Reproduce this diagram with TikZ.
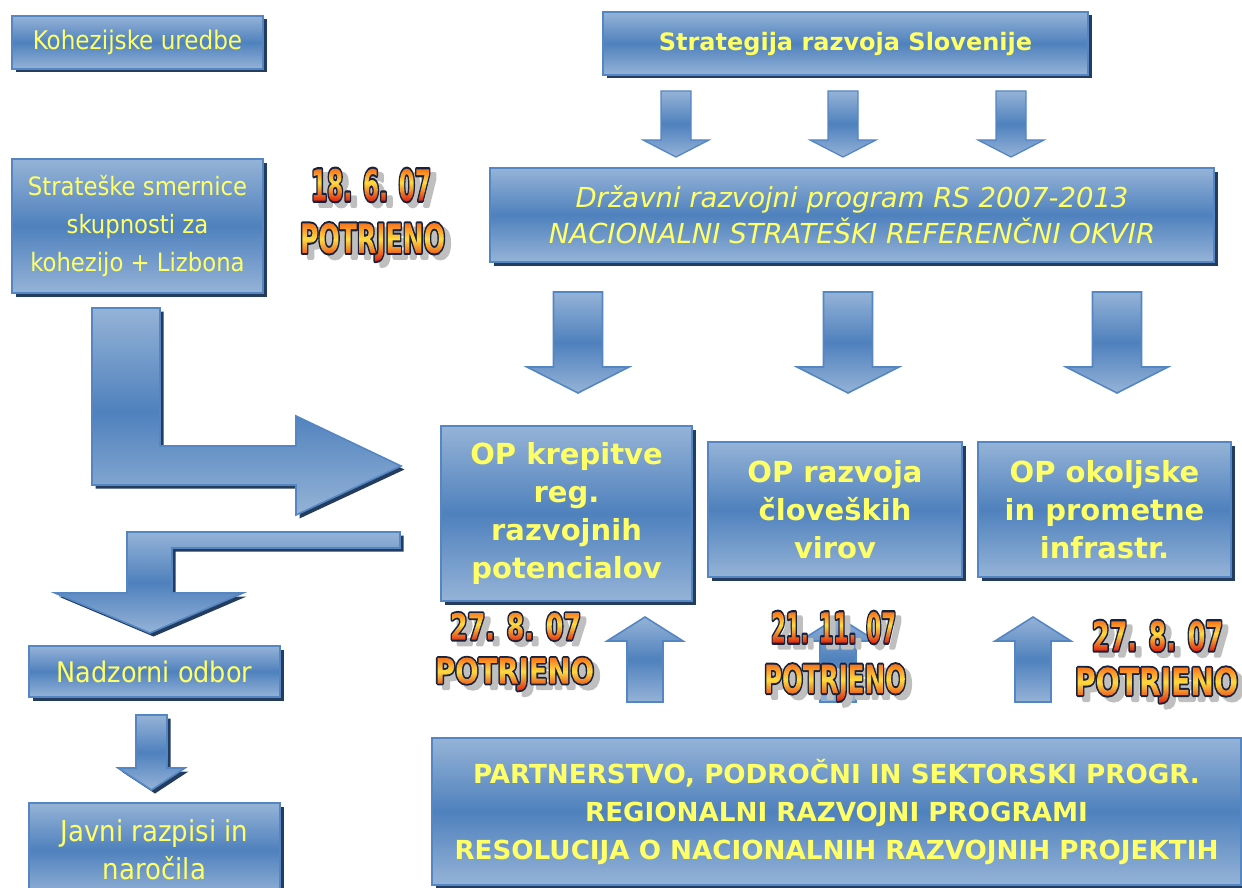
\documentclass[tikz,border=0pt]{standalone}
\usepackage{graphicx}
\usepackage{fontspec}
\usetikzlibrary{shadows}

\newfontfamily\tahreg{DejaVu Sans Condensed}
\newfontfamily\dvsans{DejaVu Sans}[ItalicFont={DejaVu Sans Oblique},BoldFont={DejaVu Sans Bold}]
\newfontfamily\stampface{DejaVu Sans Condensed Bold}

\definecolor{lightb}{RGB}{149,179,215}
\definecolor{darkb}{RGB}{79,129,189}
\definecolor{edgeb}{RGB}{84,134,196}
\definecolor{shadowc}{RGB}{36,60,94}
\definecolor{textyel}{RGB}{255,255,102}
\definecolor{stampgray}{RGB}{192,192,192}

% glyphs of a date stamp, squeezed to a given width and cap height
\newcommand\stampglyphs[3]{\resizebox{#1pt}{#2pt}{\stampface\fontsize{42}{42}\selectfont #3}}

% orange-yellow-red fills for the stamp lettering (one pattern per line,
% in page coordinates, bp from the lower edge)
\newcommand\stamppatterns{%
  \special{pdf:obj @stampfn << /FunctionType 3 /Domain [0 1]
    /Functions [ << /FunctionType 2 /Domain [0 1] /C0 [0.97 0.45 0.10] /C1 [1 0.86 0.25] /N 1 >>
                 << /FunctionType 2 /Domain [0 1] /C0 [1 0.86 0.25] /C1 [0.88 0.14 0.06] /N 1 >> ]
    /Bounds [0.42] /Encode [0 1 0 1] >>}%
  \special{pdf:obj @spAa << /PatternType 2 /Shading << /ShadingType 2 /ColorSpace /DeviceRGB
    /Coords [0 716.31 0 684.43] /Function @stampfn /Extend [true true] >> >>}%
  \special{pdf:obj @spAb << /PatternType 2 /Shading << /ShadingType 2 /ColorSpace /DeviceRGB
    /Coords [0 662.52 0 624.66] /Function @stampfn /Extend [true true] >> >>}%
  \special{pdf:obj @spBa << /PatternType 2 /Shading << /ShadingType 2 /ColorSpace /DeviceRGB
    /Coords [0 275.97 0 245.08] /Function @stampfn /Extend [true true] >> >>}%
  \special{pdf:obj @spBb << /PatternType 2 /Shading << /ShadingType 2 /ColorSpace /DeviceRGB
    /Coords [0 229.64 0 196.76] /Function @stampfn /Extend [true true] >> >>}%
  \special{pdf:obj @spCa << /PatternType 2 /Shading << /ShadingType 2 /ColorSpace /DeviceRGB
    /Coords [0 274.97 0 244.08] /Function @stampfn /Extend [true true] >> >>}%
  \special{pdf:obj @spCb << /PatternType 2 /Shading << /ShadingType 2 /ColorSpace /DeviceRGB
    /Coords [0 223.16 0 186.30] /Function @stampfn /Extend [true true] >> >>}%
  \special{pdf:obj @spDa << /PatternType 2 /Shading << /ShadingType 2 /ColorSpace /DeviceRGB
    /Coords [0 266.00 0 236.11] /Function @stampfn /Extend [true true] >> >>}%
  \special{pdf:obj @spDb << /PatternType 2 /Shading << /ShadingType 2 /ColorSpace /DeviceRGB
    /Coords [0 220.17 0 184.31] /Function @stampfn /Extend [true true] >> >>}%
  \special{pdf:put @resources << /Pattern << /SAa @spAa /SAb @spAb /SBa @spBa /SBb @spBb
    /SCa @spCa /SCb @spCb /SDa @spDa /SDb @spDb >> >>}%
}

\tikzset{
  castshadow/.style={general shadow={fill=shadowc, shadow xshift=3.5pt, shadow yshift=-3.5pt}},
  bluebox/.style={draw=edgeb, line width=2pt, top color=lightb, bottom color=lightb,
    middle color=darkb, castshadow, inner sep=0pt, align=center, text=textyel},
  blueshape/.style={draw=edgeb, line width=1.6pt, line join=miter, top color=lightb,
    bottom color=lightb, middle color=darkb},
  stampglyph/.style={inner sep=0pt, anchor=center},
}

% stamp line: name, pattern, centre x, centre y, width, cap height, text
\newcommand\stampline[7]{%
  \node[stampglyph, text=stampgray] (#1g) at (#3+6,#4+5)
    {\special{pdf:literal direct 0.75 0.75 0.75 RG 4 w 1 j 2 Tr}\stampglyphs{#5}{#6}{#7}\special{pdf:literal direct 0 Tr}};
  \node[stampglyph] (#1) at (#3,#4)
    {\special{pdf:literal direct /Pattern cs /#2 scn 0.086 0.13 0.24 RG 4.2 w 1 j 2 Tr}\stampglyphs{#5}{#6}{#7}\special{pdf:literal direct 0 Tr}};
}

\begin{document}
\begin{tikzpicture}[x=1pt,y=-1pt]
\useasboundingbox (0,0) rectangle (1242,888);
\clip (0,0) rectangle (1242,888);

% left column
\node[bluebox, minimum width=251pt, minimum height=53pt,
  font=\tahreg\fontsize{25.7}{34}\selectfont] (koh) at (137.5,42.5) {Kohezijske uredbe};
\node[bluebox, minimum width=251pt, minimum height=134pt,
  font=\tahreg\fontsize{25.3}{38}\selectfont] (smer) at (137.5,226)
  {\stamppatterns Strateške smernice\\skupnosti za\\kohezijo + Lizbona};

% bent arrow into the operational programmes
\path[blueshape, castshadow] (92,308) -- (160,308) -- (160,446) -- (296,446) -- (296,416)
  -- (401,466) -- (296,515) -- (296,485) -- (92,485) -- cycle;
% bent arrow down to the monitoring committee
\path[blueshape, castshadow] (400,532) -- (127,532) -- (127,593) -- (55,593) -- (150,633)
  -- (243,593) -- (172,593) -- (172,548) -- (400,548) -- cycle;

\node[bluebox, minimum width=251pt, minimum height=51pt,
  font=\tahreg\fontsize{28.4}{38}\selectfont] (nad) at (154.5,671.5) {Nadzorni odbor};
\path[blueshape, castshadow] (136,715) -- (167,715) -- (167,768) -- (185,768) -- (151.5,790)
  -- (118,768) -- (136,768) -- cycle;
\node[bluebox, minimum width=251pt, minimum height=94pt,
  font=\tahreg\fontsize{28.9}{38}\selectfont] (jav) at (154.5,850) {Javni razpisi in\\naročila};

% strategy and national programme
\node[bluebox, minimum width=485pt, minimum height=63pt,
  font=\dvsans\bfseries\fontsize{24}{30}\selectfont] (strat) at (845.5,43.5)
  {Strategija razvoja Slovenije};
\foreach \c in {676,843,1011}
  \path[blueshape, line width=1.3pt] ({\c-15},91) -- ({\c+15},91) -- ({\c+15},140) -- ({\c+33},140)
    -- (\c,157) -- ({\c-33},140) -- ({\c-15},140) -- cycle;
\node[bluebox, minimum width=724pt, minimum height=94pt,
  font=\dvsans\itshape\fontsize{27.5}{36}\selectfont] (drp) at (852,215)
  {Državni razvojni program RS 2007-2013\\NACIONALNI STRATEŠKI REFERENČNI OKVIR};

% arrows down to the operational programmes
\foreach \c in {578,848,1117}
  \path[blueshape] ({\c-24.5},292) -- ({\c+24.5},292) -- ({\c+24.5},367) -- ({\c+51},367)
    -- (\c,393) -- ({\c-51},367) -- ({\c-24.5},367) -- cycle;

% operational programmes
\node[bluebox, minimum width=251pt, minimum height=175pt,
  font=\dvsans\bfseries\fontsize{29}{38}\selectfont] (op1) at (566.5,513.5)
  {OP krepitve\\reg.\\razvojnih\\potencialov};
\node[bluebox, minimum width=254pt, minimum height=135pt,
  font=\dvsans\bfseries\fontsize{29}{38}\selectfont] (op2) at (835,509.5)
  {OP razvoja\\človeških\\virov};
\node[bluebox, minimum width=253pt, minimum height=135pt,
  font=\dvsans\bfseries\fontsize{29}{38}\selectfont] (op3) at (1104.5,509.5)
  {OP okoljske\\in prometne\\infrastr.};

% arrows up from the partnership box
\foreach \c in {645,838,1033}
  \path[blueshape] (\c,617) -- ({\c+38},641) -- ({\c+18},641) -- ({\c+18},702)
    -- ({\c-18},702) -- ({\c-18},641) -- ({\c-38},641) -- cycle;

\node[bluebox, minimum width=809pt, minimum height=147pt,
  font=\dvsans\bfseries\fontsize{26.2}{38}\selectfont] (bot) at (836.5,811.5)
  {PARTNERSTVO, PODROČNI IN SEKTORSKI PROGR.\\
   REGIONALNI RAZVOJNI PROGRAMI\\
   RESOLUCIJA O NACIONALNIH RAZVOJNIH PROJEKTIH};

% approval stamps
\stampline{sA}{SAa}{371}{185}{120}{32}{18. 6. 07}
\stampline{pA}{SAb}{372.5}{242}{145}{30}{POTRJENO}
\stampline{sB}{SBa}{515.5}{626.5}{131}{27}{27. 8. 07}
\stampline{pB}{SBb}{514.5}{674}{159}{26}{POTRJENO}
\stampline{sC}{SCa}{833.5}{627.5}{125}{31}{21. 11. 07}
\stampline{pC}{SCb}{835}{682.5}{142}{29}{POTRJENO}
\stampline{sD}{SDa}{1157.5}{636}{131}{30}{27. 8. 07}
\stampline{pD}{SDb}{1156.5}{685}{163}{28}{POTRJENO}
\end{tikzpicture}
\end{document}
